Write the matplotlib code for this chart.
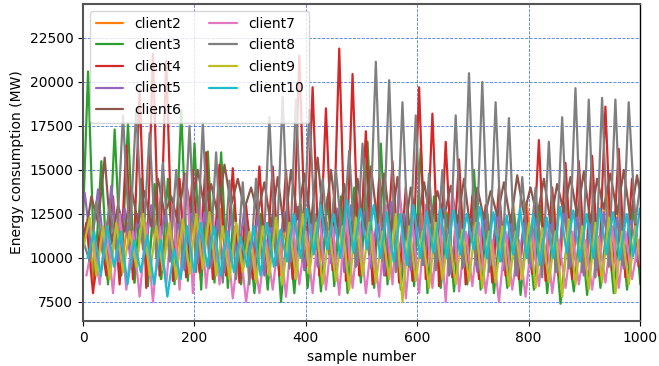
import numpy as np
import matplotlib
matplotlib.use("Agg")
import matplotlib.pyplot as plt

# ---------------- data ----------------
# Each client oscillates with a daily cycle (~23.9 samples).
# For every cycle k we list the peak value and the preceding trough value.
cycle_length = 23.9
clients = ["client2", "client3", "client4", "client5", "client6",
           "client7", "client8", "client9", "client10"]

# sample index of the first peak of each client
first_peak = {"client2": 8, "client3": 9, "client4": 6, "client5": 3, "client6": 15,
              "client7": 18, "client8": 0, "client9": 12, "client10": 20}

client2_peaks = [12200, 11500, 11000, 12000, 11500, 12500, 11800, 12000, 12500, 12000, 12800,
                 11800, 12200, 12500, 12000, 12800, 13200, 12500, 12000, 12800, 12500, 13000,
                 12800, 13200, 12500, 12800, 13000, 12600, 12900, 13200, 12800, 12500, 13000,
                 13200, 12800, 13500, 13800, 13200, 13500, 14000, 13600, 13000, 12800]
client2_troughs = [10000, 8500, 8800, 9000, 8600, 9200, 8800, 9000, 9300, 8800, 9500,
                   9000, 9200, 9400, 9800, 9500, 9200, 9600, 9800, 9400, 9600, 9800,
                   9500, 9200, 9600, 9400, 9700, 9300, 9500, 9800, 9400, 9600, 9200,
                   9500, 9800, 9400, 9600, 9900, 9500, 9700, 9400, 9600, 9800]

client3_peaks = [20600, 15500, 17300, 17650, 14500, 14200, 14500, 18400, 16500, 16050, 16000,
                 13000, 12000, 12500, 13000, 12000, 13000, 12500, 13500, 13500, 14000, 16600,
                 16500, 13500, 13000, 16250, 13500, 12500, 13000, 15000, 12500, 12000, 12500,
                 12000, 13000, 12000, 11000, 12000, 12500, 12000, 12500, 13000, 12000]
client3_troughs = [9500, 8800, 8500, 9000, 8600, 8400, 8800, 8500, 8700, 8200, 8600,
                   8300, 8500, 8000, 8200, 7500, 8000, 8300, 8100, 8400, 8000, 8600,
                   8300, 8500, 8200, 8400, 8000, 8300, 8100, 8500, 8200, 8000, 8300,
                   7900, 8200, 8000, 7400, 8100, 7900, 8300, 8000, 8200, 8500]

client4_peaks = [12000, 11500, 13500, 16400, 19600, 21600, 21200, 14500, 15000, 16000, 15300,
                 15100, 13000, 15200, 15200, 15000, 21500, 19700, 18500, 21900, 20450, 17200,
                 14500, 15500, 14000, 19700, 18200, 16600, 15600, 13500, 13000, 14000, 12500,
                 13000, 16700, 14000, 15400, 15500, 15800, 18600, 16200, 14500, 13000]
client4_troughs = [10000, 8000, 9000, 8500, 8800, 8300, 9000, 8700, 8900, 9200, 8800,
                   9000, 8600, 8800, 9200, 9000, 8800, 9500, 9000, 9300, 8700, 9000,
                   8500, 9000, 8600, 8700, 8800, 8400, 8900, 8500, 8800, 8600, 9000,
                   8800, 9100, 8700, 9000, 8800, 9200, 9000, 9300, 8900, 9500]

client5_peaks = [13700, 13900, 14100, 12800, 12500, 13000, 12700, 12300, 13000, 12600, 12200,
                 12500, 12800, 12400, 12000, 12600, 12900, 12500, 12300, 12800, 13000, 12600,
                 12400, 13200, 12500, 12300, 12700, 12900, 12400, 12200, 12600, 12800, 12300,
                 12000, 12500, 12200, 12800, 12400, 12100, 12600, 12300, 12500, 12200]
client5_troughs = [11000, 10500, 10000, 9800, 9500, 10200, 9600, 9800, 9300, 9700, 9500,
                   9200, 9800, 9400, 9000, 9600, 9800, 9300, 9500, 9700, 9200, 9600,
                   9400, 9000, 9500, 9300, 9600, 9800, 9100, 9500, 9200, 9600, 9300,
                   9000, 9400, 9700, 9200, 9500, 9000, 9300, 9600, 9400, 9800]

client6_peaks = [13500, 15700, 13000, 14000, 13800, 14500, 13500, 14800, 15000, 14200, 15300,
                 14500, 14000, 14300, 14600, 15000, 14800, 15700, 15000, 14200, 14500, 15200,
                 14800, 14600, 14000, 14300, 13800, 14100, 14500, 14000, 13800, 14300, 14700,
                 14000, 14500, 14200, 14600, 14900, 14500, 14800, 15000, 14700, 14500]
client6_troughs = [11000, 12000, 10800, 11500, 12000, 11800, 12500, 12000, 12600, 12800, 12400,
                   13000, 12800, 12500, 11800, 11500, 12200, 12000, 11600, 11800, 11000, 11500,
                   12000, 11500, 11200, 11800, 12000, 12300, 12000, 11500, 12200, 12400, 12000,
                   12500, 12300, 12000, 12600, 12400, 12000, 12800, 12500, 12200, 12400]

client7_peaks = [11000, 12000, 12500, 11500, 12000, 11800, 13000, 14800, 13500, 12500, 11500,
                 11000, 10500, 11000, 11500, 12000, 11500, 12500, 11800, 12800, 12000, 11500,
                 13000, 14300, 12000, 13000, 12500, 14000, 11500, 12000, 11000, 11500, 11000,
                 11500, 12000, 11000, 11500, 11000, 11200, 11800, 11500, 11000, 11300]
client7_troughs = [9000, 8500, 8000, 8200, 7800, 7500, 8500, 8200, 8000, 8300, 8500,
                   7700, 7500, 8000, 8200, 7800, 8500, 8000, 8200, 7900, 8300, 8000,
                   7800, 8500, 7700, 8000, 8300, 7500, 8100, 8400, 8000, 7500, 8200,
                   7800, 8400, 8000, 8300, 8500, 8200, 8600, 8300, 8800, 9000]

client8_peaks = [11000, 13200, 13000, 18100, 18500, 17100, 15400, 15000, 17500, 17650, 16000,
                 14400, 14300, 14500, 18000, 19150, 19000, 18400, 14500, 15000, 16100, 16500,
                 21150, 20100, 18850, 18100, 14800, 15000, 18100, 20500, 20000, 18850, 17950,
                 14600, 14000, 16600, 18000, 19650, 19000, 19100, 19000, 18850, 15000]
client8_troughs = [9500, 9800, 10200, 10500, 11000, 10500, 10000, 9800, 9500, 9200, 9400,
                   8600, 8800, 8500, 9300, 9600, 9400, 9800, 10500, 10200, 10800, 9500,
                   10200, 9800, 9200, 9500, 9600, 9300, 9000, 9400, 9600, 9200, 9800,
                   9000, 9700, 8900, 9200, 9400, 9200, 8900, 9500, 9600, 12000]

client9_peaks = [12300, 11800, 12000, 11500, 12500, 11800, 12000, 12200, 12500, 12600, 11800,
                 12000, 11500, 11800, 12300, 12000, 12500, 12000, 11500, 11800, 12300, 12000,
                 11500, 12500, 11800, 11500, 12000, 11300, 11600, 12000, 11500, 11800, 11500,
                 12000, 11700, 11500, 12200, 11800, 12000, 12300, 11500, 11800, 12000]
client9_troughs = [10500, 9000, 8800, 9200, 9500, 9000, 9300, 8800, 9100, 9400, 9000,
                   8800, 9200, 8600, 9000, 8500, 8800, 9100, 8500, 8700, 8200, 9000,
                   8600, 8800, 7500, 8700, 8300, 8800, 8500, 8700, 8300, 8600, 8400,
                   8800, 8300, 8600, 7800, 8500, 8200, 8600, 8000, 8500, 9000]

client10_peaks = [11500, 11800, 11500, 11000, 11300, 11000, 10500, 11800, 12000, 11800, 11500,
                  11200, 11800, 12000, 11600, 12500, 12800, 13000, 12500, 13300, 12800, 13000,
                  12600, 12500, 13000, 12600, 12800, 12700, 12500, 12900, 12600, 12400, 12800,
                  12500, 12300, 12900, 12700, 12500, 12800, 12600, 12500, 12800, 12400]
client10_troughs = [10000, 9000, 9500, 8500, 9200, 8500, 7800, 8800, 9200, 9500, 9000,
                    9200, 9500, 9000, 9500, 9800, 10000, 10200, 10500, 10000, 10300, 10500,
                    10000, 9800, 9600, 10000, 10300, 10000, 10200, 10500, 10000, 9800, 10200,
                    10000, 9600, 10000, 10300, 9800, 10000, 10200, 9900, 10100, 10400]

peaks = {"client2": client2_peaks, "client3": client3_peaks, "client4": client4_peaks,
         "client5": client5_peaks, "client6": client6_peaks, "client7": client7_peaks,
         "client8": client8_peaks, "client9": client9_peaks, "client10": client10_peaks}
troughs = {"client2": client2_troughs, "client3": client3_troughs, "client4": client4_troughs,
           "client5": client5_troughs, "client6": client6_troughs, "client7": client7_troughs,
           "client8": client8_troughs, "client9": client9_troughs, "client10": client10_troughs}

x_ticks = [0, 200, 400, 600, 800, 1000]
y_ticks = [7500, 10000, 12500, 15000, 17500, 20000, 22500]


def series(name):
    p = np.asarray(peaks[name], dtype=float)
    t = np.asarray(troughs[name], dtype=float)
    k = np.arange(len(p))
    xp = first_peak[name] + cycle_length * k
    xt = xp - cycle_length / 2
    x = np.empty(2 * len(p))
    y = np.empty(2 * len(p))
    x[0::2], x[1::2] = xt, xp
    y[0::2], y[1::2] = t, p
    return x, y


# ---------------- figure ----------------
fig = plt.figure(figsize=(6.59, 3.66), dpi=100)
ax = fig.add_axes([0.126, 0.123, 0.845, 0.866])

colors = ["C1", "C2", "C3", "C4", "C5", "C6", "C7", "C8", "C9"]
for name, c in zip(clients, colors):
    x, y = series(name)
    ax.plot(x, y, color=c, lw=1.6, label=name,
            solid_joinstyle="round", solid_capstyle="round")

ax.set_xlim(0, 1000)
ax.set_ylim(6420, 24430)
ax.set_xticks(x_ticks)
ax.set_yticks(y_ticks)
ax.grid(True, color="#2255dd", linestyle="--", linewidth=0.6, alpha=0.8)
ax.set_xlabel("sample number", fontsize=10)
ax.set_ylabel("Energy consumption (MW)", fontsize=10)
ax.tick_params(labelsize=10)

for s in ["left", "top", "bottom"]:
    ax.spines[s].set_color("#555555")
    ax.spines[s].set_linewidth(1.5)
ax.spines["right"].set_color("black")
ax.spines["right"].set_linewidth(1.0)

ax.legend(loc="upper left", ncol=2, fontsize=10, framealpha=0.8,
          labelspacing=0.55)

fig.savefig("out.png", dpi=100)
